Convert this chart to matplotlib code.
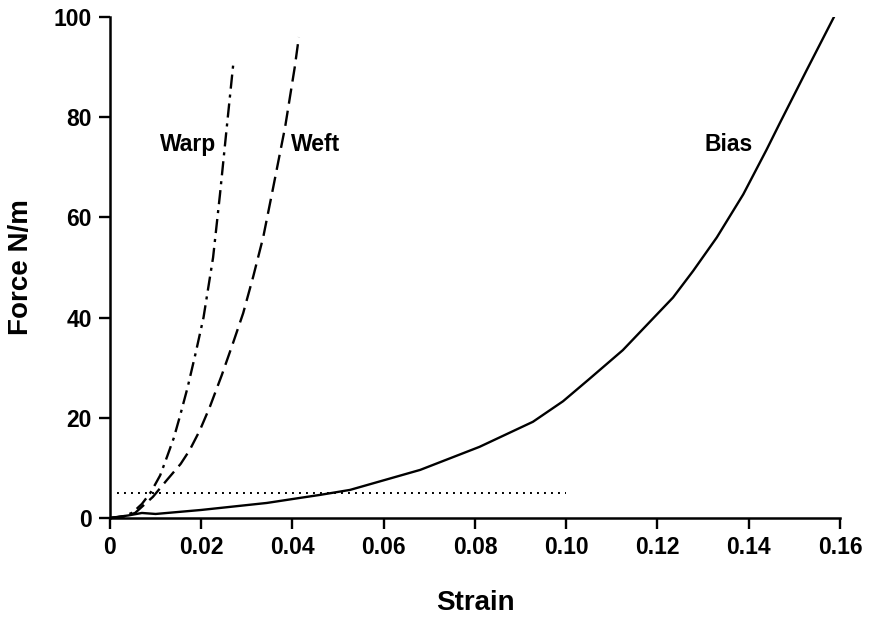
import matplotlib
matplotlib.use("Agg")
import matplotlib.pyplot as plt

plt.rcParams["font.family"] = ["Liberation Sans", "DejaVu Sans"]
plt.rcParams["font.weight"] = "bold"

# curves (strain, force N/m)
warp_strain = [0, 0.003, 0.005, 0.007, 0.009, 0.011, 0.0125, 0.014, 0.0153, 0.017,
               0.0188, 0.0205, 0.0226, 0.0241, 0.0256, 0.027]
warp_force = [0, 0.3, 1.1, 2.8, 5.2, 8.5, 12.2, 16, 20.2, 26, 33, 40, 52, 64.5, 78, 90.4]

weft_strain = [0, 0.003, 0.0055, 0.0094, 0.0125, 0.0155, 0.0175, 0.0197, 0.0219, 0.0245,
               0.027, 0.0292, 0.0314, 0.0336, 0.0358, 0.0384, 0.0405, 0.0414]
weft_force = [0, 0.3, 1, 4.2, 7.6, 10.8, 13.6, 17.5, 22.2, 28.5, 35, 40.9, 48.2, 56.1,
              66.1, 78.1, 90, 96]

bias_strain = [0, 0.004, 0.007, 0.01, 0.02, 0.0344, 0.0416, 0.046, 0.0526, 0.068, 0.081,
               0.0927, 0.0993, 0.105, 0.1124, 0.1234, 0.1278, 0.133, 0.1388, 0.1439,
               0.1468, 0.1527, 0.1589]
bias_force = [0, 0.5, 1.0, 0.8, 1.6, 3, 4, 4.6, 5.6, 9.6, 14.2, 19.2, 23.3, 27.7, 33.5,
              44, 49.3, 56, 64.6, 73.5, 78.8, 89.4, 100.4]

# reference level (dotted)
ref_strain = [0.0015, 0.1]
ref_force = [5, 5]

xticks = [0, 0.02, 0.04, 0.06, 0.08, 0.10, 0.12, 0.14, 0.16]
xtick_labels = ["0", "0.02", "0.04", "0.06", "0.08", "0.10", "0.12", "0.14", "0.16"]
yticks = [0, 20, 40, 60, 80, 100]

fig = plt.figure(figsize=(8.7, 6.17), dpi=100)
ax = fig.add_axes([0.1264, 0.1605, 0.8391, 0.8119])

ax.plot(warp_strain, warp_force, color="black", lw=1.7, dashes=(6, 2.5, 1.3, 2.5))
ax.plot(weft_strain, weft_force, color="black", lw=1.7, dashes=(6.5, 3))
ax.plot(bias_strain, bias_force, color="black", lw=1.7)
ax.plot(ref_strain, ref_force, color="black", lw=1.4, dashes=(1, 2.6))

ax.text(0.0172, 74.5, "Warp", fontsize=16.5, fontweight="bold", ha="center", va="center")
ax.text(0.0451, 74.5, "Weft", fontsize=16.5, fontweight="bold", ha="center", va="center")
ax.text(0.1355, 74.5, "Bias", fontsize=16.5, fontweight="bold", ha="center", va="center")

ax.set_xlim(0, 0.16)
ax.set_ylim(0, 100)
ax.set_xticks(xticks)
ax.set_xticklabels(xtick_labels)
ax.set_yticks(yticks)
ax.tick_params(axis="both", labelsize=16.5, width=1.7, length=8, direction="out", pad=5)
for lab in ax.get_xticklabels() + ax.get_yticklabels():
    lab.set_fontweight("bold")

for side in ["top", "right"]:
    ax.spines[side].set_visible(False)
for side in ["left", "bottom"]:
    ax.spines[side].set_linewidth(1.8)

ax.set_xlabel("Strain", fontsize=20, fontweight="bold", labelpad=22)
ax.set_ylabel("Force N/m", fontsize=20, fontweight="bold", labelpad=14)

fig.savefig("out.png", dpi=100)
